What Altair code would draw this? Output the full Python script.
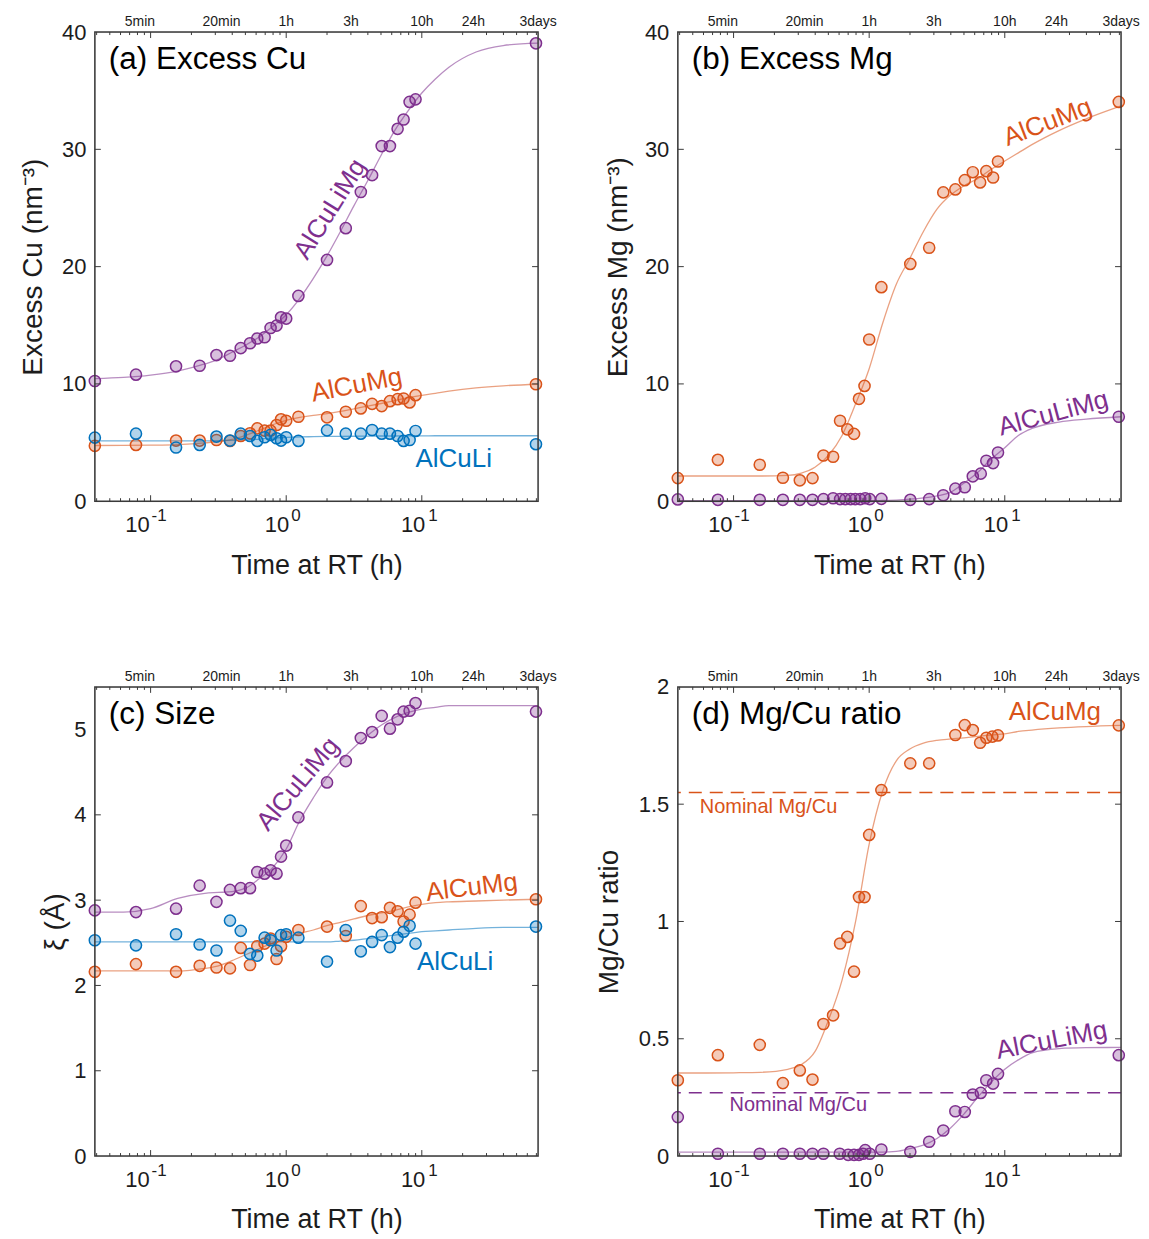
import altair as alt
import pandas as pd

FONT = "Liberation Sans"
INK = "#1c1c1c"
FRAME = "#3a3a3a"
PURPLE = "#7E2F8E"
ORANGE = "#D95319"
BLUE = "#0072BD"

T_MIN, T_MAX = 0.0388, 72.0

# ---------------- axis decorations ----------------
TOP_LABEL_T = [5 / 60, 20 / 60, 1, 3, 10, 24, 72]
TOP_LABEL_TEXT = ["5min", "20min", "1h", "3h", "10h", "24h", "3days"]
DECADE_T = [0.1, 1, 10]
DECADE_EXP = ["-1", "0", "1"]
MINOR_T = [0.04, 0.05, 0.06, 0.07, 0.08, 0.09,
           0.2, 0.3, 0.4, 0.5, 0.6, 0.7, 0.8, 0.9,
           2, 3, 4, 5, 6, 7, 8, 9,
           20, 30, 40, 50, 60, 70]

# ---------------- measured points ----------------
T_AC = [0.0388, 0.078, 0.154, 0.230, 0.306, 0.385, 0.462, 0.541, 0.612, 0.693, 0.767, 0.849, 0.916,
        1.0, 1.23, 2.0, 2.75, 3.55, 4.30, 5.06, 5.82, 6.63, 7.34, 8.13, 8.99, 69.5]
A_CULIMG = [10.25, 10.79, 11.5, 11.55, 12.46, 12.4, 13.05, 13.47, 13.87, 13.98, 14.77, 14.97, 15.68,
            15.57, 17.5, 20.57, 23.28, 26.36, 27.8, 30.28, 30.28, 31.75, 32.54, 34.04, 34.26, 39.04]
A_CUMG = [4.72, 4.80, 5.17, 5.17, 5.22, 5.14, 5.56, 5.79, 6.21, 6.02, 6.02, 6.5, 6.98,
          6.86, 7.2, 7.15, 7.63, 7.91, 8.3, 8.11, 8.53, 8.70, 8.76, 8.42, 9.04, 9.97]
A_CULI = [5.42, 5.76, 4.58, 4.80, 5.51, 5.17, 5.76, 5.56, 5.14, 5.45, 5.65, 5.37, 5.17,
          5.45, 5.14, 6.04, 5.76, 5.76, 6.07, 5.76, 5.76, 5.56, 5.14, 5.22, 5.99, 4.86]
C_CULIMG = [2.88, 2.86, 2.90, 3.17, 2.98, 3.12, 3.14, 3.14, 3.33, 3.31, 3.35, 3.31, 3.51,
            3.64, 3.97, 4.38, 4.63, 4.90, 4.97, 5.16, 5.01, 5.12, 5.21, 5.22, 5.31, 5.21]
C_CUMG = [2.16, 2.25, 2.16, 2.23, 2.21, 2.20, 2.44, 2.24, 2.46, 2.49, 2.55, 2.31, 2.46,
          2.57, 2.65, 2.69, 2.58, 2.93, 2.79, 2.80, 2.91, 2.87, 2.75, 2.83, 2.97, 3.01]
C_CULI = [2.53, 2.47, 2.60, 2.48, 2.41, 2.76, 2.64, 2.37, 2.35, 2.56, 2.53, 2.41, 2.59,
          2.60, 2.56, 2.28, 2.65, 2.40, 2.51, 2.59, 2.45, 2.56, 2.63, 2.70, 2.49, 2.69]

T_B_CULIMG = [0.0388, 0.0766, 0.156, 0.231, 0.308, 0.382, 0.460, 0.542, 0.610, 0.667, 0.730, 0.789, 0.859,
              0.935, 1.01, 1.23, 2.01, 2.77, 3.52, 4.32, 5.07, 5.81, 6.65, 7.31, 8.20, 8.91, 69.3]
B_CULIMG = [0.15, 0.12, 0.12, 0.12, 0.12, 0.12, 0.18, 0.25, 0.18, 0.18, 0.18, 0.18, 0.18,
            0.25, 0.18, 0.2, 0.12, 0.18, 0.51, 1.07, 1.19, 2.12, 2.35, 3.45, 3.25, 4.15, 7.2]
T_B_CUMG = [0.0388, 0.0766, 0.156, 0.231, 0.308, 0.382, 0.460, 0.542, 0.610, 0.690, 0.773, 0.841, 0.924,
            1.0, 1.23, 2.01, 2.77, 3.52, 4.32, 5.07, 5.81, 6.58, 7.31, 8.20, 8.91, 69.3]
B_CUMG = [1.97, 3.53, 3.11, 2.0, 1.78, 1.97, 3.90, 3.79, 6.86, 6.13, 5.74, 8.73, 9.83,
          13.79, 18.25, 20.23, 21.61, 26.33, 26.58, 27.37, 28.05, 27.18, 28.14, 27.6, 28.96, 34.04]

T_D_CUMG = [0.0388, 0.0766, 0.156, 0.231, 0.308, 0.382, 0.460, 0.542, 0.610, 0.690, 0.773, 0.841, 0.924,
            1.0, 1.23, 2.01, 2.77, 4.32, 5.07, 5.81, 6.58, 7.31, 8.10, 8.91, 69.3]
D_CUMG = [0.323, 0.43, 0.474, 0.311, 0.365, 0.326, 0.563, 0.60, 0.906, 0.934, 0.786, 1.104, 1.104,
          1.369, 1.56, 1.674, 1.674, 1.795, 1.837, 1.816, 1.762, 1.783, 1.788, 1.793, 1.836]
T_D_CULIMG = [0.0388, 0.0766, 0.156, 0.231, 0.308, 0.382, 0.460, 0.607, 0.70, 0.773, 0.841, 0.90, 0.935,
              1.01, 1.23, 2.01, 2.77, 3.52, 4.32, 5.07, 5.81, 6.65, 7.31, 8.20, 8.91, 69.3]
D_CULIMG = [0.166, 0.01, 0.01, 0.01, 0.01, 0.01, 0.01, 0.01, 0.005, 0.005, 0.005, 0.01, 0.025,
            0.01, 0.028, 0.018, 0.061, 0.109, 0.191, 0.188, 0.262, 0.269, 0.323, 0.309, 0.35, 0.43]

# ---------------- fitted curves ----------------
CURVE_T = [0.0388, 0.0631, 0.1, 0.1585, 0.2512, 0.3162, 0.3981, 0.5012, 0.631, 0.7943, 1.0, 1.259, 1.585,
           1.995, 2.512, 3.162, 3.981, 5.012, 6.31, 7.943, 10.0, 12.59, 15.85, 25.12, 39.81, 72.0]
FIT_A_CULIMG = [10.45, 10.55, 10.75, 11.1, 11.7, 12.1, 12.7, 13.3, 14.0, 14.9, 15.9, 17.3, 19.0,
                20.9, 23.0, 25.2, 27.3, 29.5, 31.6, 33.3, 34.8, 36.0, 37.0, 38.3, 38.85, 39.05]
FIT_A_CUMG = [4.75, 4.76, 4.78, 4.83, 4.97, 5.08, 5.27, 5.62, 6.05, 6.52, 6.9, 7.15, 7.32,
              7.46, 7.65, 7.88, 8.1, 8.33, 8.58, 8.83, 9.03, 9.2, 9.38, 9.66, 9.84, 9.97]
FIT_A_CULI = [5.15, 5.15, 5.15, 5.15, 5.15, 5.16, 5.18, 5.22, 5.3, 5.38, 5.44, 5.48, 5.5,
              5.52, 5.53, 5.54, 5.55, 5.56, 5.56, 5.57, 5.57, 5.58, 5.58, 5.58, 5.58, 5.58]
FIT_B_CUMG = [2.15, 2.15, 2.15, 2.15, 2.2, 2.4, 2.9, 3.9, 5.6, 8.3, 11.3, 15.2, 18.5,
              20.7, 23.0, 24.9, 26.1, 26.9, 27.5, 28.3, 29.0, 29.7, 30.4, 31.6, 32.6, 33.7]
FIT_B_CULIMG = [0.05, 0.05, 0.05, 0.05, 0.05, 0.05, 0.05, 0.05, 0.05, 0.05, 0.05, 0.06, 0.1,
                0.17, 0.28, 0.45, 0.75, 1.55, 2.45, 3.6, 4.55, 5.6, 6.2, 6.75, 7.0, 7.2]
FIT_C_CULIMG = [2.86, 2.86, 2.9, 3.02, 3.08, 3.09, 3.1, 3.14, 3.25, 3.38, 3.6, 3.93, 4.2,
                4.44, 4.63, 4.79, 4.93, 5.05, 5.14, 5.2, 5.24, 5.26, 5.28, 5.28, 5.28, 5.28]
FIT_C_CUMG = [2.17, 2.17, 2.17, 2.17, 2.2, 2.23, 2.29, 2.36, 2.43, 2.5, 2.56, 2.61, 2.65,
              2.7, 2.74, 2.78, 2.82, 2.85, 2.88, 2.92, 2.95, 2.97, 2.98, 2.99, 3.0, 3.01]
FIT_C_CULI = [2.51, 2.51, 2.51, 2.51, 2.51, 2.51, 2.51, 2.51, 2.51, 2.51, 2.51, 2.51, 2.51,
              2.51, 2.52, 2.53, 2.55, 2.57, 2.59, 2.61, 2.63, 2.64, 2.65, 2.67, 2.68, 2.68]
FIT_D_CUMG = [0.354, 0.354, 0.355, 0.357, 0.37, 0.39, 0.445, 0.58, 0.75, 1.0, 1.33, 1.557, 1.685,
              1.735, 1.76, 1.772, 1.778, 1.783, 1.789, 1.795, 1.8, 1.81, 1.816, 1.825, 1.831, 1.836]
FIT_D_CULIMG = [0.017, 0.017, 0.017, 0.017, 0.017, 0.017, 0.017, 0.017, 0.017, 0.017, 0.017, 0.017, 0.02,
                0.032, 0.047, 0.075, 0.12, 0.18, 0.25, 0.315, 0.37, 0.41, 0.44, 0.458, 0.462, 0.463]

NOMINAL_CUMG = 1.55
NOMINAL_CULIMG = 0.27

# ---------------- layout constants ----------------
W, H = 444, 470
EXP_DX = [1, 5, 6.5]      # exponent left offsets per decade label
TEN_DX = [-1, 3, 3.5]     # "10" right offsets per decade label


def pts(t, v):
    return pd.DataFrame({"t": t, "v": v})


def panel(title, y_title, y_dom, y_ticks, y_title_pad, series, fits, notes, hlines=()):
    xs = alt.Scale(type="log", domain=[T_MIN, T_MAX], nice=False)
    ys = alt.Scale(domain=y_dom, nice=False, zero=False)
    x_axis = alt.Axis(title="Time at RT (h)", labels=False, ticks=False, domain=False, grid=False,
                      titleFont=FONT, titleFontSize=27, titleFontWeight="normal", titleColor=INK,
                      titlePadding=51)
    y_axis = alt.Axis(title=y_title, values=y_ticks, labelExpr="'' + datum.value", ticks=False,
                      domain=False, grid=False,
                      labelFont=FONT, labelFontSize=22, labelColor=INK, labelPadding=9,
                      titleFont=FONT, titleFontSize=28, titleFontWeight="normal", titleColor=INK,
                      titlePadding=y_title_pad)
    X = alt.X("t:Q", scale=xs, axis=x_axis)
    Y = alt.Y("v:Q", scale=ys, axis=y_axis)

    layers = []
    for vals, color in fits:
        layers.append(alt.Chart(pts(CURVE_T, vals)).mark_line(
            color=color, strokeWidth=1.3, opacity=0.55, interpolate="monotone").encode(x=X, y=Y))
    for line_v, color in hlines:
        layers.append(alt.Chart(pd.DataFrame({"v": [line_v]})).mark_rule(
            color=color, strokeWidth=1.4, strokeDash=[13, 8]).encode(y=Y))
    for t, v, color in series:
        layers.append(alt.Chart(pts(t, v)).mark_point(
            shape="circle", size=125, filled=False, fill=color, fillOpacity=0.3,
            stroke=color, strokeWidth=1.5, opacity=1).encode(x=X, y=Y))
    for text, t, v, color, angle, fs in notes:
        layers.append(alt.Chart(pd.DataFrame({"t": [t], "v": [v], "s": [text]})).mark_text(
            font=FONT, fontSize=fs, color=color, angle=angle, align="center",
            baseline="middle").encode(x=X, y=Y, text="s:N"))

    # box frame and inward ticks
    minor = pd.DataFrame({"t": MINOR_T})
    major = pd.DataFrame({"t": DECADE_T})
    yt = pd.DataFrame({"v": y_ticks[1:-1]})
    rule = dict(color=FRAME, strokeWidth=1)
    layers += [
        alt.Chart(pd.DataFrame({"k": [0]})).mark_rect(
            fill="transparent", stroke=FRAME, strokeWidth=1.5).encode(
            x=alt.value(0), x2=alt.value(W), y=alt.value(0), y2=alt.value(H)),
        alt.Chart(minor).mark_rule(**rule).encode(x=X, y=alt.value(H), y2=alt.value(H - 3)),
        alt.Chart(major).mark_rule(**rule).encode(x=X, y=alt.value(H), y2=alt.value(H - 6)),
        alt.Chart(minor).mark_rule(**rule).encode(x=X, y=alt.value(0), y2=alt.value(3)),
        alt.Chart(major).mark_rule(**rule).encode(x=X, y=alt.value(0), y2=alt.value(6)),
        alt.Chart(yt).mark_rule(**rule).encode(y=Y, x=alt.value(0), x2=alt.value(6)),
        alt.Chart(yt).mark_rule(**rule).encode(y=Y, x=alt.value(W - 6), x2=alt.value(W)),
    ]
    # bottom decade labels 10^n
    for i, (dt, ex) in enumerate(zip(DECADE_T, DECADE_EXP)):
        d = pd.DataFrame({"t": [dt], "a": ["10"], "b": [ex]})
        layers.append(alt.Chart(d).mark_text(font=FONT, fontSize=22, color=INK, align="right",
                                             baseline="alphabetic", dx=TEN_DX[i]).encode(
            x=X, y=alt.value(H + 31), text="a:N"))
        layers.append(alt.Chart(d).mark_text(font=FONT, fontSize=17, color=INK, align="left",
                                             baseline="alphabetic", dx=EXP_DX[i]).encode(
            x=X, y=alt.value(H + 20), text="b:N"))
    # top time labels
    top = pd.DataFrame({"t": TOP_LABEL_T, "s": TOP_LABEL_TEXT})
    layers.append(alt.Chart(top).mark_text(font=FONT, fontSize=14, color=INK, align="center",
                                           baseline="alphabetic").encode(
        x=X, y=alt.value(-6), text="s:N"))
    # panel title
    layers.append(alt.Chart(pd.DataFrame({"s": [title]})).mark_text(
        font=FONT, fontSize=31.5, color="#000000", align="left", baseline="alphabetic").encode(
        x=alt.value(14), y=alt.value(37), text="s:N"))

    return alt.layer(*layers).properties(width=W, height=H)


pa = panel("(a) Excess Cu", "Excess Cu (nm⁻³)", [0, 40], [0, 10, 20, 30, 40], 14,
           series=[(T_AC, A_CULIMG, PURPLE), (T_AC, A_CUMG, ORANGE), (T_AC, A_CULI, BLUE)],
           fits=[(FIT_A_CULIMG, PURPLE), (FIT_A_CUMG, ORANGE), (FIT_A_CULI, BLUE)],
           notes=[("AlCuLiMg", 2.11, 24.9, PURPLE, 302, 26),
                  ("AlCuMg", 3.31, 9.9, ORANGE, 349, 26),
                  ("AlCuLi", 17.2, 3.56, BLUE, 0, 26)])

pb = panel("(b) Excess Mg", "Excess Mg (nm⁻³)", [0, 40], [0, 10, 20, 30, 40], 12,
           series=[(T_B_CUMG, B_CUMG, ORANGE), (T_B_CULIMG, B_CULIMG, PURPLE)],
           fits=[(FIT_B_CUMG, ORANGE), (FIT_B_CULIMG, PURPLE)],
           notes=[("AlCuMg", 20.7, 32.3, ORANGE, 339, 26),
                  ("AlCuLiMg", 22.8, 7.48, PURPLE, 345, 26)])

pc = panel("(c) Size", "ξ (Å)", [0, 5.5], [0, 1, 2, 3, 4, 5], 4,
           series=[(T_AC, C_CULIMG, PURPLE), (T_AC, C_CUMG, ORANGE), (T_AC, C_CULI, BLUE)],
           fits=[(FIT_C_CULIMG, PURPLE), (FIT_C_CUMG, ORANGE), (FIT_C_CULI, BLUE)],
           notes=[("AlCuLiMg", 1.22, 4.36, PURPLE, 310, 26),
                  ("AlCuMg", 23.4, 3.15, ORANGE, 353, 26),
                  ("AlCuLi", 17.6, 2.28, BLUE, 0, 26)])

pd_ = panel("(d) Mg/Cu ratio", "Mg/Cu ratio", [0, 2], [0, 0.5, 1, 1.5, 2], 15,
            series=[(T_D_CUMG, D_CUMG, ORANGE), (T_D_CULIMG, D_CULIMG, PURPLE)],
            fits=[(FIT_D_CUMG, ORANGE), (FIT_D_CULIMG, PURPLE)],
            notes=[("AlCuMg", 23.4, 1.894, ORANGE, 0, 26),
                   ("AlCuLiMg", 22.2, 0.493, PURPLE, 349, 26),
                   ("Nominal Mg/Cu", 0.181, 1.486, ORANGE, 0, 20),
                   ("Nominal Mg/Cu", 0.30, 0.217, PURPLE, 0, 20)],
            hlines=[(NOMINAL_CUMG, ORANGE), (NOMINAL_CULIMG, PURPLE)])

chart = alt.concat(
    pa, pb, pc, pd_, columns=2, spacing={"row": 186, "column": 140}, bounds="flush",
).properties(padding={"left": 11, "top": 5, "right": 0, "bottom": 0}).configure_view(
    stroke="transparent").configure(background="white")

chart.save("out.html", embed_options={"renderer": "svg", "actions": False})
